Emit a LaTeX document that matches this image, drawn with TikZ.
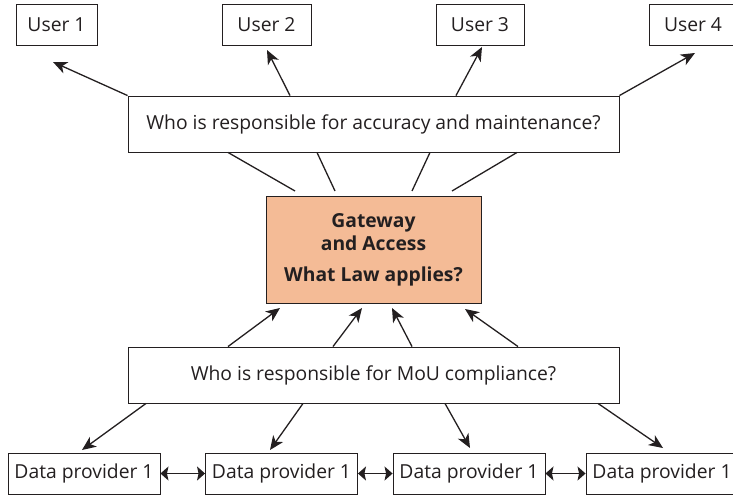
\documentclass[tikz,border=0pt]{standalone}
\usepackage{fontspec}
\setmainfont{Open Sans}
\usepackage{xcolor}
\usetikzlibrary{arrows.meta}

\definecolor{gatefill}{RGB}{244,187,150}
\definecolor{ink}{RGB}{35,31,32}

\begin{document}
\begin{tikzpicture}[
    x = 1pt,
    y = -1pt,
    font = \fontsize{19.3}{23}\selectfont,
    text = ink,
    box/.style = {
      rectangle,
      draw=ink,
      line width=0.9pt,
      fill=white,
      inner sep=0pt
    },
    userbox/.style = {
      box,
      minimum height=41pt
    },
    askbox/.style = {
      box,
      minimum width=491pt,
      minimum height=56pt
    },
    gatebox/.style = {
      box,
      fill=gatefill,
      minimum width=215pt,
      minimum height=107pt,
      align=center,
      font=\fontsize{19.3}{23}\selectfont\bfseries
    },
    provbox/.style = {
      box,
      minimum width=152pt,
      minimum height=41pt
    },
    arr/.style = {
      draw=ink,
      line width=1.3pt,
      -{Stealth[length=14pt,width=12pt,inset=4pt]}
    },
    plain/.style = {
      draw=ink,
      line width=1.3pt
    },
    dbl/.style = {
      draw=ink,
      line width=1.3pt,
      {Stealth[length=8pt,width=14pt,inset=1.5pt]}-{Stealth[length=8pt,width=14pt,inset=1.5pt]}
    }
  ]
    \useasboundingbox (0,0) rectangle (733,495);

    % users on top
    \node[userbox, minimum width=81pt] (user1) at (56.5,24.5) {User 1};
    \node[userbox, minimum width=89pt] (user2) at (266.5,24.5) {User 2};
    \node[userbox, minimum width=88pt] (user3) at (480,24.5) {User 3};
    \node[userbox, minimum width=88pt] (user4) at (693,24.5) {User 4};

    % questions and gateway
    \node[askbox] (acc) at (373.5,124) {Who is responsible for accuracy and maintenance?};
    \node[gatebox] (gate) at (373.5,249.5) {Gateway\\and Access\\[8pt]What Law applies?};
    \node[askbox] (mou) at (373.5,375) {Who is responsible for MoU compliance?};

    % data providers
    \node[provbox] (dp1) at (84,473.5) {Data provider 1};
    \node[provbox] (dp2) at (281.5,473.5) {Data provider 1};
    \node[provbox] (dp3) at (469,473.5) {Data provider 1};
    \node[provbox] (dp4) at (662,473.5) {Data provider 1};

    % free ends
    \coordinate (u1tip) at (53,62);
    \coordinate (u2tip) at (267,50);
    \coordinate (u3tip) at (482,47);
    \coordinate (u4tip) at (695,53);
    \coordinate (ga) at (295,191);
    \coordinate (gb) at (335,191);
    \coordinate (gc) at (412,191);
    \coordinate (gd) at (452,191);
    \coordinate (ge) at (280,308);
    \coordinate (gf) at (362,308);
    \coordinate (gg) at (392,308);
    \coordinate (gh) at (465,309);
    \coordinate (p1tip) at (82,450);
    \coordinate (p2tip) at (270,450);
    \coordinate (p3tip) at (470,448);
    \coordinate (p4tip) at (663,448);

    \draw[arr] (acc.north west) -- (u1tip);
    \draw[arr] (290,0 |- acc.north) -- (u2tip);
    \draw[arr] (456,0 |- acc.north) -- (u3tip);
    \draw[arr] (acc.north east) -- (u4tip);

    \draw[plain] (228,0 |- acc.south) -- (ga);
    \draw[plain] (317,0 |- acc.south) -- (gb);
    \draw[plain] (430,0 |- acc.south) -- (gc);
    \draw[plain] (517,0 |- acc.south) -- (gd);

    \draw[arr] (228,0 |- mou.north) -- (ge);
    \draw[arr] (333,0 |- mou.north) -- (gf);
    \draw[arr] (412,0 |- mou.north) -- (gg);
    \draw[arr] (518,0 |- mou.north) -- (gh);

    \draw[arr] (146,0 |- mou.south) -- (p1tip);
    \draw[arr] (303,0 |- mou.south) -- (p2tip);
    \draw[arr] (445,0 |- mou.south) -- (p3tip);
    \draw[arr] (598,0 |- mou.south) -- (p4tip);

    \draw[dbl] (dp1) -- (dp2);
    \draw[dbl] (dp2) -- (dp3);
    \draw[dbl] (dp3) -- (dp4);

  \end{tikzpicture}
\end{document}
